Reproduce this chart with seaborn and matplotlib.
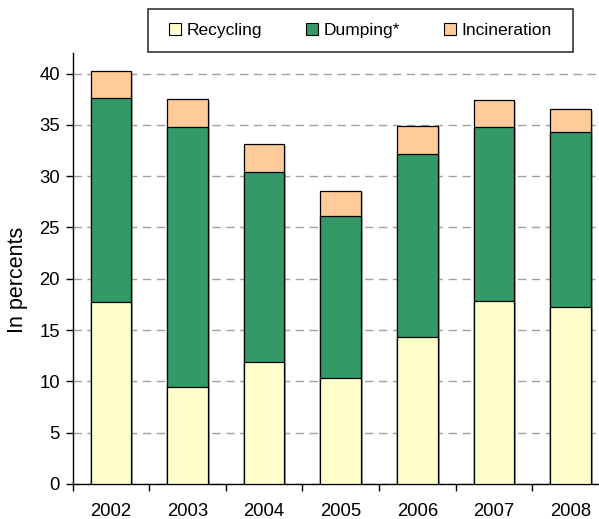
import numpy as np
import pandas as pd
import seaborn as sns
import matplotlib.pyplot as plt
import matplotlib.patheffects as pe
from matplotlib.patches import Patch, Rectangle

# Waste treatment shares by year (percent)
years = ['2002', '2003', '2004', '2005', '2006', '2007', '2008']
recycling = [17.7, 9.5, 11.9, 10.3, 14.3, 17.8, 17.2]
dumping = [19.9, 25.3, 18.5, 15.8, 17.9, 17.0, 17.1]
incineration = [2.6, 2.7, 2.7, 2.5, 2.7, 2.6, 2.2]

series_names = ['Recycling', 'Dumping*', 'Incineration']
series_colors = ['#FFFFCC', '#339966', '#FFCC99']
y_ticks = [0, 5, 10, 15, 20, 25, 30, 35, 40]

sns.set_style("white")
plt.rcParams['font.family'] = ['Liberation Sans', 'DejaVu Sans']
plt.rcParams['text.color'] = 'black'
plt.rcParams['axes.labelcolor'] = 'black'
plt.rcParams['xtick.color'] = 'black'
plt.rcParams['ytick.color'] = 'black'

df = pd.DataFrame({'year': years, 'recycling': recycling,
                   'dumping': dumping, 'incineration': incineration})
df['lower_two'] = df['recycling'] + df['dumping']
df['total'] = df['lower_two'] + df['incineration']

W, H = 599, 519
fig = plt.figure(figsize=(W / 100, H / 100), dpi=100)
ax = fig.add_axes([72.5 / W, 35 / H, (W - 72.5) / W, (484 - 53) / H])

# Stacked bars: draw cumulative heights from the top layer down
layers = [('total', series_colors[2]),
          ('lower_two', series_colors[1]),
          ('recycling', series_colors[0])]
for i, (col, color) in enumerate(layers):
    n_before = len(ax.patches)
    sns.barplot(data=df, x='year', y=col, color=color, saturation=1,
                width=0.53, edgecolor='black', linewidth=0.9, ax=ax, zorder=3)
    if i == 0:
        for p in ax.patches[n_before:]:
            p.set_path_effects([pe.SimplePatchShadow(offset=(1.5, -1),
                                                     shadow_rgbFace='0.55', alpha=0.5),
                                pe.Normal()])

ax.set_ylim(0, 42)
ax.set_yticks(y_ticks)
ax.set_xlim(-0.5, (W - 72.5) / 76.63 - 0.5)
ax.set_xlabel('')
ax.set_ylabel('In percents', fontsize=15.5)
ax.yaxis.set_label_coords(-0.085, 0.474)

ax.yaxis.grid(True, linestyle=(0, (6, 4)), color='#a0a0a0', linewidth=1)
ax.xaxis.grid(False)
ax.set_axisbelow(True)

sns.despine(ax=ax)
for s in ('left', 'bottom'):
    ax.spines[s].set_color('black')
    ax.spines[s].set_linewidth(1)

ax.set_xticks(np.arange(-0.5, 6.5, 1), minor=True)
ax.tick_params(axis='x', which='major', bottom=True, length=0, pad=14, labelsize=13.3)
ax.tick_params(axis='x', which='minor', bottom=True, length=5, width=1, color='black')
ax.tick_params(axis='y', left=True, length=5, width=1, color='black', pad=4, labelsize=13.3)

handles = [Patch(facecolor=c, edgecolor='black', linewidth=0.8, label=n)
           for n, c in zip(series_names, series_colors)]
fig.legend(handles=handles, loc='center', bbox_to_anchor=(360.5 / W, 1 - 30.7 / H),
           ncol=3, frameon=False, handlelength=0.7, handleheight=0.7,
           handletextpad=0.3, columnspacing=2.55, fontsize=12.5)
fig.patches.append(Rectangle((148 / W, 1 - 52 / H), 425 / W, 43 / H,
                             transform=fig.transFigure, fill=False,
                             edgecolor='#222222', linewidth=1.1))

fig.savefig('out.png', dpi=100)
